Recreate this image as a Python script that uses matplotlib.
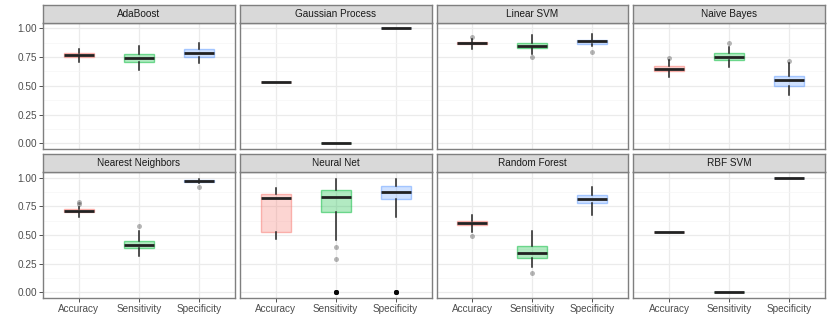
import matplotlib
matplotlib.use("Agg")
import matplotlib.pyplot as plt
from matplotlib.colors import to_rgba

plt.rcParams['font.family'] = ['Liberation Sans', 'DejaVu Sans']

classifiers = ["AdaBoost", "Gaussian Process", "Linear SVM", "Naive Bayes",
               "Nearest Neighbors", "Neural Net", "Random Forest", "RBF SVM"]
metrics = ["Accuracy", "Sensitivity", "Specificity"]
metric_colors = ["#F8766D", "#00BA38", "#619CFF"]

# box stats per classifier, one value per metric
med = [[0.767, 0.744, 0.785], [0.532, 0.0, 1.0], [0.872, 0.849, 0.887], [0.648, 0.753, 0.552],
       [0.713, 0.417, 0.968], [0.825, 0.833, 0.874], [0.603, 0.342, 0.816], [0.529, 0.0, 0.995]]
q1 = [[0.750, 0.712, 0.747], [0.532, 0.0, 1.0], [0.864, 0.828, 0.866], [0.625, 0.724, 0.503],
      [0.703, 0.388, 0.960], [0.529, 0.701, 0.813], [0.585, 0.299, 0.776], [0.529, 0.0, 0.995]]
q3 = [[0.785, 0.776, 0.820], [0.532, 0.0, 1.0], [0.878, 0.872, 0.900], [0.672, 0.785, 0.590],
      [0.724, 0.451, 0.977], [0.856, 0.897, 0.928], [0.626, 0.400, 0.853], [0.529, 0.0, 0.995]]
whislo = [[0.709, 0.640, 0.698], [0.532, 0.0, 1.0], [0.823, 0.776, 0.843], [0.581, 0.660, 0.419],
          [0.661, 0.316, 0.957], [0.468, 0.454, 0.655], [0.526, 0.221, 0.675], [0.529, 0.0, 0.995]]
whishi = [[0.823, 0.849, 0.869], [0.532, 0.0, 1.0], [0.905, 0.939, 0.953], [0.721, 0.837, 0.698],
          [0.747, 0.532, 0.991], [0.908, 0.991, 0.991], [0.675, 0.532, 0.920], [0.529, 0.0, 0.995]]
fliers = [[[], [], []], [[], [], []], [[0.924], [0.747], [0.794]], [[0.741], [0.872], [0.718]],
          [[0.790, 0.767], [0.580], [0.920]],
          [[], [0.397, 0.287] + [0.0] * 10, [0.0] * 10],
          [[0.489], [0.164], []], [[], [], []]]

W, H = 830, 332
fig = plt.figure(figsize=(W / 100, H / 100), dpi=100)

col_left = [43, 239.75, 436.5, 633.25]
pw = 191.75
rows = [(22.7, 149.0, 5.0), (172.0, 298.0, 154.3)]  # panel top, panel bottom, strip top

for i, name in enumerate(classifiers):
    r, c = divmod(i, 4)
    top, bot, stop = rows[r]
    x0 = col_left[c]
    ax = fig.add_axes([x0 / W, 1 - bot / H, pw / W, (bot - top) / H])
    sax = fig.add_axes([x0 / W, 1 - top / H, pw / W, (top - stop) / H])

    stats = []
    for j in range(3):
        stats.append(dict(med=med[i][j], q1=q1[i][j], q3=q3[i][j],
                          whislo=whislo[i][j], whishi=whishi[i][j], fliers=fliers[i][j]))
    bp = ax.bxp(stats, positions=[1, 2, 3], widths=0.5, patch_artist=True, showcaps=False,
                medianprops=dict(color="#222222", linewidth=2.0),
                whiskerprops=dict(color="#222222", linewidth=1.1),
                flierprops=dict(marker='o', markersize=3.6, markerfacecolor=(0, 0, 0, 0.28),
                                markeredgecolor='none'))
    for j, box in enumerate(bp['boxes']):
        box.set_facecolor(to_rgba(metric_colors[j], 0.3))
        box.set_edgecolor(to_rgba(metric_colors[j], 0.5))
        box.set_linewidth(1.0)

    ax.set_xlim(0.4, 3.6)
    ax.set_ylim(-0.05, 1.05)
    ax.set_yticks([0, 0.25, 0.5, 0.75, 1.0])
    ax.set_yticks([0.125, 0.375, 0.625, 0.875], minor=True)
    ax.set_xticks([1, 2, 3])
    ax.grid(True, which='major', color="#EBEBEB", linewidth=0.9)
    ax.grid(True, which='minor', axis='y', color="#F5F5F5", linewidth=0.5)
    ax.set_axisbelow(True)
    ax.tick_params(which='minor', length=0)
    ax.tick_params(which='major', length=2.7, width=0.6, color="#333333",
                   labelsize=7.2, labelcolor="#4D4D4D", pad=1.5)
    for sp in ax.spines.values():
        sp.set_color("#7F7F7F")
        sp.set_linewidth(1.0)
    if c == 0:
        ax.set_yticklabels(["0.00", "0.25", "0.50", "0.75", "1.00"])
    else:
        ax.tick_params(axis='y', left=False, labelleft=False)
    if r == 1:
        ax.set_xticklabels(metrics)
    else:
        ax.tick_params(axis='x', bottom=False, labelbottom=False)

    sax.set_facecolor("#D9D9D9")
    sax.set_xticks([])
    sax.set_yticks([])
    for sp in sax.spines.values():
        sp.set_color("#7F7F7F")
        sp.set_linewidth(1.0)
    sax.text(0.5, 0.5, name, ha='center', va='center', fontsize=7.2, color="#1A1A1A",
             transform=sax.transAxes)

fig.savefig("out.png", dpi=100)
